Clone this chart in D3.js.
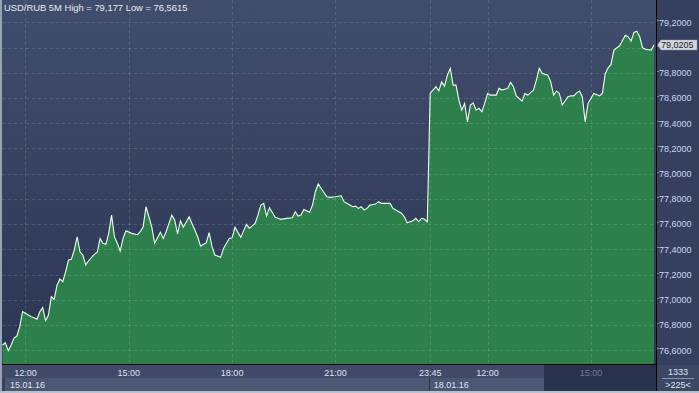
<!DOCTYPE html>
<html>
<head>
<meta charset="utf-8">
<script src="https://cdnjs.cloudflare.com/ajax/libs/d3/7.8.5/d3.min.js"></script>
<style>
  body { margin: 0; background: #2e3a57; }
  svg { display: block; font-family: "Liberation Sans", Arial, sans-serif; }
</style>
</head>
<body>
<div id="chart"></div>
<script>
// 5 minute bars, index counted from friday 11:20
const barIndex = [0,1,2,3,4,5,6,7,8,10,11,12,13,14,15,16,17,18,19,20,21,22,23,24,25,26,27,28,29,30,
  32,33,34,35,36,37,38,39,40,41,42,43,45,47,48,49,50,52,53,55,56,57,58,59,60,61,62,63,65,67,68,69,
  71,72,73,74,76,77,79,80,81,83,85,86,88,89,90,91,92,93,95,97,99,101,102,103,104,105,107,108,109,110,
  111,113,114,116,118,119,121,122,123,124,125,126,127,128,130,131,132,135,136,137,139,140,141,143,144,
  145,146,147,148,149,151,152,153,154,155,156,157,158,159,160,161,162,163,164,165,166,167,168,169,170,
  172,173,174,176,177,178,179,181,182,183,185,186,187,188,190,191,192,193,194,195,197,198,199,200,201,
  202,203,204,206,208,209,210,211,212,213,215,217,218,219,220,221,222,223,224,226,227];

const closePrice = [76.642,76.660,76.597,76.642,76.697,76.713,76.787,76.906,76.893,76.866,76.858,76.846,
  76.906,76.938,76.835,76.880,77.025,77.004,77.117,77.165,77.144,77.223,77.316,77.321,77.395,77.500,77.381,
  77.355,77.276,77.310,77.361,77.377,77.487,77.448,77.440,77.527,77.672,77.500,77.448,77.387,77.487,77.548,
  77.527,77.516,77.540,77.579,77.738,77.579,77.448,77.535,77.487,77.540,77.606,77.672,77.632,77.522,77.627,
  77.575,77.659,77.553,77.500,77.426,77.453,77.532,77.421,77.355,77.337,77.408,77.487,77.492,77.575,77.495,
  77.598,77.567,77.606,77.672,77.751,77.765,77.664,77.730,77.654,77.638,77.646,77.651,77.698,77.664,77.672,
  77.717,77.694,77.751,77.857,77.918,77.884,77.817,77.812,77.817,77.825,77.778,77.751,77.738,77.743,77.725,
  77.738,77.712,77.725,77.751,77.759,77.778,77.765,77.765,77.725,77.712,77.686,77.659,77.611,77.627,77.646,
  77.619,77.646,77.638,77.619,78.636,78.689,78.657,78.728,78.694,78.781,78.835,78.702,78.702,78.583,78.504,
  78.557,78.411,78.544,78.562,78.504,78.518,78.491,78.557,78.636,78.623,78.623,78.676,78.663,78.676,78.724,
  78.689,78.617,78.575,78.636,78.623,78.663,78.742,78.835,78.795,78.781,78.728,78.623,78.655,78.636,78.544,
  78.610,78.617,78.617,78.641,78.655,78.610,78.411,78.557,78.636,78.617,78.636,78.795,78.839,78.866,78.980,
  79.014,79.098,79.085,79.051,79.120,79.130,79.085,78.998,78.987,78.980,79.0205];

const priceTicks = [76.6, 76.8, 77.0, 77.2, 77.4, 77.6, 77.8, 78.0, 78.2, 78.4, 78.6, 78.8, 79.0, 79.2];
const timeTickBars = [8, 44, 80, 116, 149, 169, 205];
const timeTickLabels = ["12:00", "15:00", "18:00", "21:00", "23:45", "12:00", "15:00"];
const sessionStartBars = [0, 149];
const sessionDates = ["15.01.16", "18.01.16"];

const symbolName = "USD/RUB 5M";
const highValue = "79,177";
const lowValue = "76,5615";
const lastPrice = 79.0205;
const barCount = 1333;
const visibleBars = 225;

const width = 699, height = 393;
const plotLeft = 2, plotRight = 656, plotBottom = 364;

const fmt = d => d3.format(".4f")(d).replace(".", ",");

const svg = d3.select("#chart").append("svg")
  .attr("width", width)
  .attr("height", height);

const defs = svg.append("defs");
const bg = defs.append("linearGradient")
  .attr("id", "bgGrad")
  .attr("x1", 0).attr("y1", 0).attr("x2", 0).attr("y2", 1);
bg.append("stop").attr("offset", "0%").attr("stop-color", "#414d6c");
bg.append("stop").attr("offset", "100%").attr("stop-color", "#2b3653");

defs.append("clipPath").attr("id", "plotClip")
  .append("rect")
  .attr("x", plotLeft).attr("y", 0)
  .attr("width", plotRight - plotLeft).attr("height", plotBottom);

const x = d3.scaleLinear().domain([0, 227.5]).range([2.5, 655.5]);
const y = d3.scaleLinear().domain([76.6, 79.2]).range([350.3, 22.3]);

const data = barIndex.map((b, i) => ({ bar: b, v: closePrice[i] }));

// whole background
svg.append("rect")
  .attr("width", width).attr("height", height)
  .attr("fill", "#34405d");

// plot background
svg.append("rect")
  .attr("x", plotLeft).attr("y", 0)
  .attr("width", plotRight - plotLeft).attr("height", plotBottom)
  .attr("fill", "url(#bgGrad)");

// right axis panel
svg.append("rect")
  .attr("x", plotRight + 1).attr("y", 0)
  .attr("width", width - plotRight - 1).attr("height", plotBottom)
  .attr("fill", "#34405d");

const plot = svg.append("g").attr("clip-path", "url(#plotClip)");

const area = d3.area()
  .x(d => x(d.bar))
  .y0(plotBottom)
  .y1(d => y(d.v));

const line = d3.line()
  .x(d => x(d.bar))
  .y(d => y(d.v));

plot.append("path")
  .datum(data)
  .attr("d", area)
  .attr("fill", "#2d804b");

// grid on top of the area
plot.selectAll(".hgrid")
  .data(priceTicks)
  .join("line")
  .attr("x1", plotLeft).attr("x2", plotRight)
  .attr("y1", d => Math.round(y(d)) + 0.5)
  .attr("y2", d => Math.round(y(d)) + 0.5)
  .attr("stroke", "rgba(255,255,255,0.14)")
  .attr("stroke-dasharray", "3,3");

plot.selectAll(".vgrid")
  .data(timeTickBars)
  .join("line")
  .attr("x1", d => Math.round(x(d)) + 0.5)
  .attr("x2", d => Math.round(x(d)) + 0.5)
  .attr("y1", 0).attr("y2", plotBottom)
  .attr("stroke", "rgba(255,255,255,0.14)")
  .attr("stroke-dasharray", "3,3");

plot.append("path")
  .datum(data)
  .attr("d", line)
  .attr("fill", "none")
  .attr("stroke", "#effff0")
  .attr("stroke-width", 1.1);

// title
svg.append("text")
  .attr("x", 4).attr("y", 11)
  .attr("fill", "#e6ebf4")
  .style("font-size", "9.4px")
  .text(`${symbolName}  High = ${highValue} Low = ${lowValue}`);

// price axis, the label under the last price marker is hidden
const ly = y(lastPrice);
const shownTicks = priceTicks.filter(d => Math.abs(y(d) - ly) > 9);

svg.selectAll(".ptick")
  .data(priceTicks)
  .join("line")
  .attr("x1", plotRight + 1).attr("x2", plotRight + 3)
  .attr("y1", d => Math.round(y(d)) - 1.5)
  .attr("y2", d => Math.round(y(d)) - 1.5)
  .attr("stroke", "#5d8fd0");

svg.selectAll(".plabel")
  .data(shownTicks)
  .join("text")
  .attr("x", 659).attr("y", d => y(d) + 3.3)
  .attr("fill", "#c9d7f0")
  .style("font-size", "9px")
  .text(fmt);

// last price marker
svg.append("path")
  .attr("d", `M657.5,${ly} L661,${ly - 5} L697,${ly - 5} L697,${ly + 5} L661,${ly + 5} Z`)
  .attr("fill", "#d3d7de")
  .attr("stroke", "#9aa0aa")
  .attr("stroke-width", 0.5);
svg.append("text")
  .attr("x", 661).attr("y", ly + 3.3)
  .attr("fill", "#1a1a1a")
  .style("font-size", "9px")
  .text(fmt(lastPrice));

// frame lines
svg.append("line")
  .attr("x1", plotLeft).attr("x2", plotRight + 1)
  .attr("y1", plotBottom + 0.5).attr("y2", plotBottom + 0.5)
  .attr("stroke", "#000");
svg.append("line")
  .attr("x1", plotRight + 0.5).attr("x2", plotRight + 0.5)
  .attr("y1", 0).attr("y2", height)
  .attr("stroke", "#000");

// time axis row
svg.append("rect")
  .attr("x", plotLeft).attr("y", plotBottom + 1)
  .attr("width", plotRight - plotLeft).attr("height", 13)
  .attr("fill", "#3e4a68");

// date row
svg.append("rect")
  .attr("x", 5).attr("y", 378)
  .attr("width", plotRight - 5).attr("height", 13)
  .attr("fill", "#4b5775");

// dimmed part at the end
svg.append("rect")
  .attr("x", 544).attr("y", plotBottom + 1)
  .attr("width", plotRight - 544).attr("height", 26)
  .attr("fill", "#27324d");

svg.selectAll(".tlabel")
  .data(timeTickBars)
  .join("text")
  .attr("x", d => x(d))
  .attr("y", 376)
  .attr("text-anchor", "middle")
  .attr("fill", (d, i) => i === timeTickBars.length - 1 ? "#6f7a92" : "#dfe4ee")
  .style("font-size", "9px")
  .text((d, i) => timeTickLabels[i]);

svg.selectAll(".dsep")
  .data(sessionStartBars.slice(1))
  .join("line")
  .attr("x1", d => Math.round(x(d)) - 0.5)
  .attr("x2", d => Math.round(x(d)) - 0.5)
  .attr("y1", 378).attr("y2", 391)
  .attr("stroke", "#2b3550");

svg.selectAll(".dlabel")
  .data(sessionStartBars)
  .join("text")
  .attr("x", (d, i) => i === 0 ? 10 : x(d) + 3.5)
  .attr("y", 388)
  .attr("fill", "#dfe4ee")
  .style("font-size", "9px")
  .text((d, i) => sessionDates[i]);

// bar counter box
svg.append("rect")
  .attr("x", plotRight + 1).attr("y", plotBottom + 1)
  .attr("width", width - plotRight - 1).attr("height", height - plotBottom - 1)
  .attr("fill", "#3b4765");
svg.append("text")
  .attr("x", 678).attr("y", 375)
  .attr("text-anchor", "middle")
  .attr("fill", "#dfe4ee")
  .style("font-size", "9px")
  .text(barCount);
svg.append("line")
  .attr("x1", 662).attr("x2", 694)
  .attr("y1", 378.5).attr("y2", 378.5)
  .attr("stroke", "#8b94a8");
svg.append("text")
  .attr("x", 678).attr("y", 388)
  .attr("text-anchor", "middle")
  .attr("fill", "#dfe4ee")
  .style("font-size", "9px")
  .text(`>${visibleBars}<`);

// outer light edges
svg.append("rect")
  .attr("x", 0).attr("y", 0).attr("width", 2).attr("height", height)
  .attr("fill", "#9aa3b5");
svg.append("rect")
  .attr("x", 0).attr("y", height - 2).attr("width", width).attr("height", 2)
  .attr("fill", "#b9bfca");
</script>
</body>
</html>
